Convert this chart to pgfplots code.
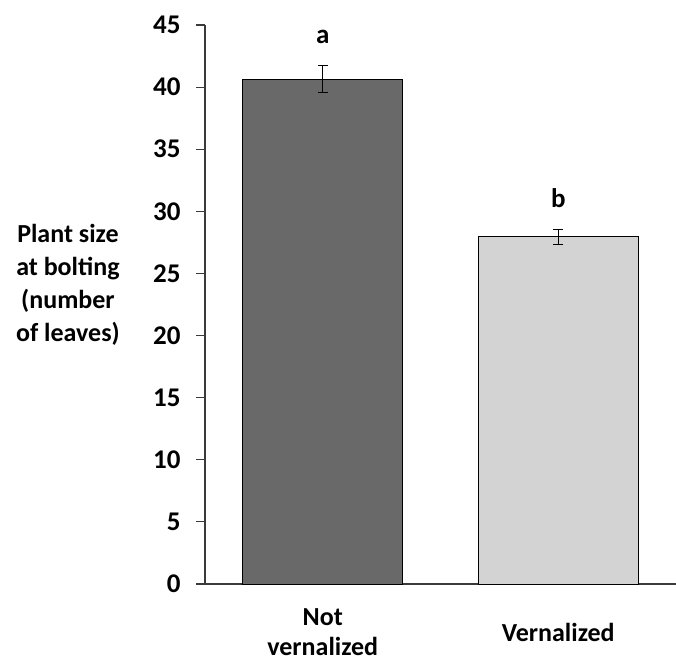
\documentclass[border=0pt]{standalone}
\usepackage{pgfplots}
\pgfplotsset{compat=1.18}
\usepackage{fontspec}
\setmainfont{Carlito}
\definecolor{darkbar}{HTML}{696969}
\definecolor{lightbar}{HTML}{D3D3D3}
\definecolor{axisgray}{HTML}{3A3A3A}
\begin{document}
\begin{tikzpicture}
\useasboundingbox (-205pt,-77pt) rectangle (471pt,584pt);
\begin{axis}[
  scale only axis, width=471pt, height=559pt,
  xmin=-0.5, xmax=1.5, ymin=0, ymax=45,
  ytick={0,5,...,45},
  xtick={0,1},
  xticklabels={{Not\\vernalized},{Vernalized}},
  axis x line*=bottom, axis y line*=left,
  axis line style={-, axisgray, line width=1.2pt},
  x axis line style={-, shorten <=-9pt},
  y axis line style={-},
  tick align=outside,
  major tick length=9pt,
  ytick style={axisgray, line width=1.2pt},
  xtick style={draw=none},
  /pgf/number format/assume math mode=true,
  ticklabel style={font=\bfseries\fontsize{27}{30}\selectfont},
  yticklabel style={xshift=-12pt},
  xticklabel style={align=center, anchor=center, yshift=-39pt, font=\bfseries\fontsize{26}{30}\selectfont},
  clip=false,
]
\addplot[ybar, bar width=0.68, fill=darkbar, draw=black, line width=0.8pt, bar shift=0pt,
  error bars/.cd, y dir=both, y explicit,
  error bar style={black, line width=1pt},
  error mark options={rotate=90, mark size=5pt, line width=1pt, black}]
  coordinates {(0,40.65) +- (0,1.1)};
\addplot[ybar, bar width=0.68, fill=lightbar, draw=black, line width=0.8pt, bar shift=0pt,
  error bars/.cd, y dir=both, y explicit,
  error bar style={black, line width=1pt},
  error mark options={rotate=90, mark size=5pt, line width=1pt, black}]
  coordinates {(1,27.95) +- (0,0.6)};
\node[font=\bfseries\fontsize{27}{30}\selectfont] at (axis cs:0,44.0) {a};
\node[font=\bfseries\fontsize{27}{30}\selectfont] at (axis cs:1,31.1) {b};
\node[align=center, font=\bfseries\fontsize{26}{33}\selectfont] at (rel axis cs:-0.291,0.535) {Plant size\\at bolting\\(number\\of leaves)};
\end{axis}
\end{tikzpicture}
\end{document}
